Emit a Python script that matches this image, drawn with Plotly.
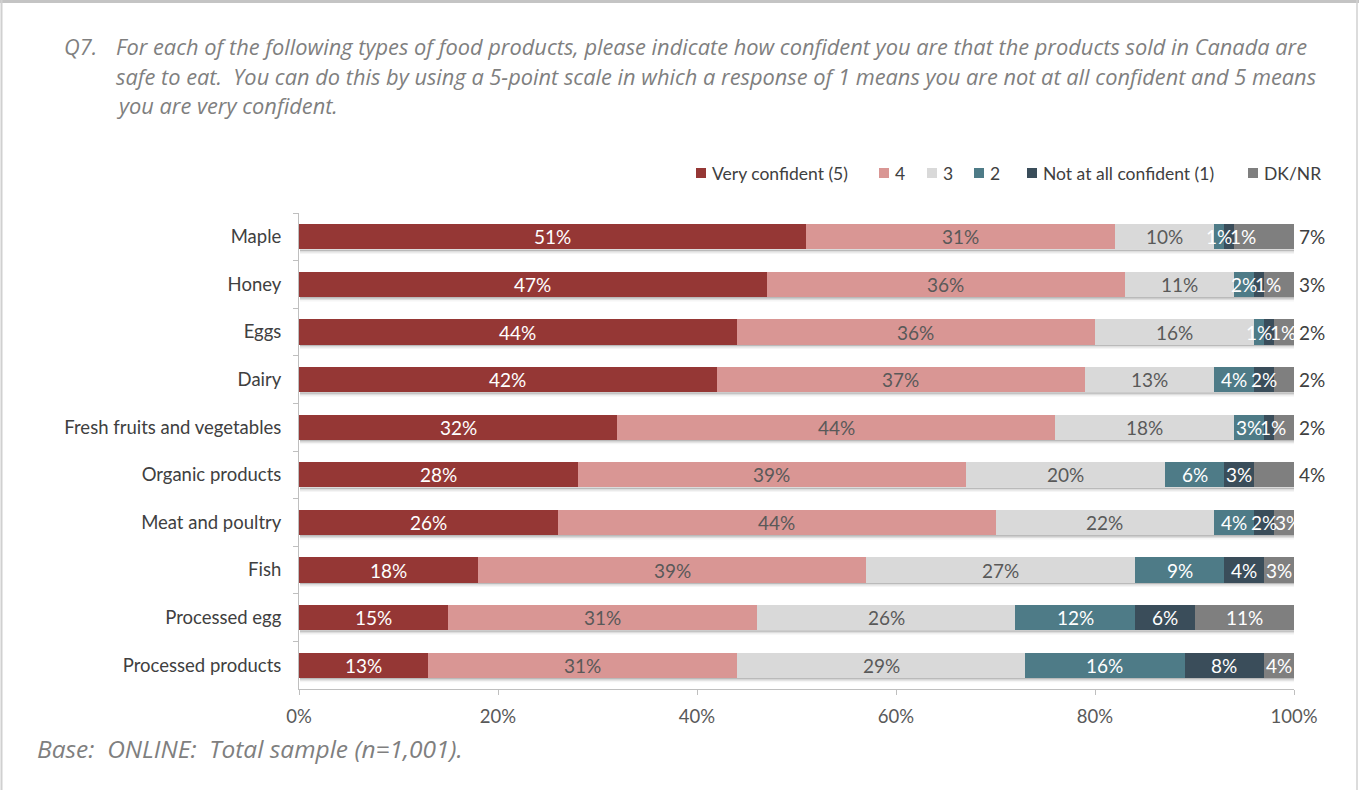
import plotly.graph_objects as go

# Survey results: confidence that food products sold in Canada are safe to eat
categories = [
    "Maple", "Honey", "Eggs", "Dairy", "Fresh fruits and vegetables",
    "Organic products", "Meat and poultry", "Fish", "Processed egg",
    "Processed products",
]
very_confident = [51, 47, 44, 42, 32, 28, 26, 18, 15, 13]
rating_4 = [31, 36, 36, 37, 44, 39, 44, 39, 31, 31]
rating_3 = [10, 11, 16, 13, 18, 20, 22, 27, 26, 29]
rating_2 = [1, 2, 1, 4, 3, 6, 4, 9, 12, 16]
not_confident = [1, 1, 1, 2, 1, 3, 2, 4, 6, 8]
dk_nr = [7, 3, 2, 2, 2, 4, 3, 3, 11, 4]

series_names = ["Very confident (5)", "4", "3", "2", "Not at all confident (1)", "DK/NR"]
x_ticks = [0, 20, 40, 60, 80, 100]

# where the DK/NR label sits for each row
dk_label_place = ["outside"] * 6 + ["inside"] * 4

series = [very_confident, rating_4, rating_3, rating_2, not_confident, dk_nr]
colors = ["#953735", "#D99694", "#D9D9D9", "#4E7B87", "#3A4D5A", "#7F7F7F"]
text_colors = ["#FFFFFF", "#595959", "#595959", "#FFFFFF", "#FFFFFF", "#FFFFFF"]

FONT = "Lato, 'Open Sans', sans-serif"
ITALIC_FONT = "'Open Sans', Lato, sans-serif"
LABEL_SIZE = 19
W, H = 1359, 790
L, R, T, B = 299, 65, 213, 101
PW, PH = W - L - R, H - T - B
BARGAP = 0.47


def px_x(p):
    return (p - L) / PW


def px_y(p):
    return 1 - (p - T) / PH


def label_width(txt, size):
    # rough pixel width of a "NN%" label
    digits = len(txt) - 1
    return size * (0.58 * digits + 0.62)


fig = go.Figure()
for name, vals, col in zip(series_names, series, colors):
    fig.add_trace(go.Bar(
        y=categories, x=vals, name=name, orientation="h",
        marker=dict(color=col, line=dict(width=0)),
        showlegend=False, hoverinfo="x+name",
    ))

annotations = []
shapes = []
px_per_unit = PW / 100.0
unit_per_px_y = 1.0 / (PH / len(categories))
half_bar = (1 - BARGAP) / 2

for i, cat in enumerate(categories):
    total = min(sum(s[i] for s in series), 100)
    # soft drop shadow beneath each bar
    for depth, alpha in ((1.5, 0.16), (3.0, 0.09), (4.5, 0.04)):
        shapes.append(dict(
            type="rect", xref="x", yref="y", layer="below",
            x0=0.1, x1=total + 0.15,
            y0=i + half_bar, y1=i + half_bar + depth * unit_per_px_y,
            fillcolor=f"rgba(0,0,0,{alpha})", line=dict(width=0)))

    cum = 0.0
    prev_right = -1e9
    for s, vals in enumerate(series):
        v = vals[i]
        start, end = cum, min(cum + v, 100)
        cum += v
        label = f"{v}%"
        if s == len(series) - 1 and dk_label_place[i] == "outside":
            annotations.append(dict(
                x=100, y=cat, xref="x", yref="y", text=label, showarrow=False,
                xanchor="left", xshift=3,
                font=dict(family=FONT, size=LABEL_SIZE, color="#404040")))
            continue
        wpx = label_width(label, LABEL_SIZE)
        cx = L + (start + end) / 2 * px_per_unit
        if cx - wpx / 2 < prev_right + 1:
            cx = prev_right + 1 + wpx / 2
        prev_right = cx + wpx / 2
        annotations.append(dict(
            x=(cx - L) / px_per_unit, y=cat, xref="x", yref="y", text=label,
            showarrow=False, xanchor="center",
            font=dict(family=FONT, size=LABEL_SIZE, color=text_colors[s])))

# title block
title_lines = [
    "For each of the following types of food products, please indicate how confident you are that the products sold in Canada are",
    "safe to eat.  You can do this by using a 5-point scale in which a response of 1 means you are not at all confident and 5 means",
    "you are very confident.",
]
title_font = dict(family=ITALIC_FONT, size=21.8, color="#7F7F7F")
annotations.append(dict(x=px_x(62), y=px_y(47), xref="paper", yref="paper",
                        text="<i>Q7.</i>", showarrow=False, xanchor="left",
                        yanchor="middle", font=title_font))
for k, line in enumerate(title_lines):
    annotations.append(dict(x=px_x(114), y=px_y(47 + 29.5 * k), xref="paper",
                            yref="paper", text=f"<i>{line}</i>", showarrow=False,
                            xanchor="left", yanchor="middle", font=title_font))

annotations.append(dict(x=px_x(35), y=px_y(748), xref="paper", yref="paper",
                        text="<i>Base:  ONLINE:  Total sample (n=1,001).</i>",
                        showarrow=False, xanchor="left", yanchor="middle",
                        font=dict(family=ITALIC_FONT, size=24.5, color="#7F7F7F")))

# legend drawn as swatches + labels
legend_x = [696, 879, 927, 974, 1027, 1248]
legend_y = 173
for name, col, lx in zip(series_names, colors, legend_x):
    shapes.append(dict(type="rect", xref="paper", yref="paper",
                       x0=px_x(lx), x1=px_x(lx + 10),
                       y0=px_y(legend_y + 5), y1=px_y(legend_y - 5),
                       fillcolor=col, line=dict(width=0)))
    annotations.append(dict(x=px_x(lx + 14), y=px_y(legend_y), xref="paper",
                            yref="paper", text=name, showarrow=False,
                            xanchor="left", yanchor="middle",
                            font=dict(family=FONT, size=17.5, color="#404040")))

# page frame
shapes.append(dict(type="line", xref="paper", yref="paper", x0=px_x(0), x1=px_x(W),
                   y0=px_y(1.5), y1=px_y(1.5), line=dict(color="#C4C4C4", width=3)))
shapes.append(dict(type="line", xref="paper", yref="paper", x0=px_x(1.5), x1=px_x(1.5),
                   y0=px_y(0), y1=px_y(H), line=dict(color="#D0D0D0", width=2)))
shapes.append(dict(type="line", xref="paper", yref="paper", x0=px_x(1357), x1=px_x(1357),
                   y0=px_y(0), y1=px_y(H), line=dict(color="#D0D0D0", width=1.5)))

fig.update_layout(
    barmode="stack",
    bargap=BARGAP,
    width=W, height=H,
    margin=dict(l=L, r=R, t=T, b=B, pad=0),
    paper_bgcolor="white", plot_bgcolor="white",
    font=dict(family=FONT, color="#404040"),
    annotations=annotations,
    shapes=shapes,
    xaxis=dict(
        range=[0, 100], tickvals=x_ticks, ticktext=[f"{t}%" for t in x_ticks],
        showgrid=False, zeroline=False, showline=True, linecolor="#BFBFBF",
        linewidth=1, ticks="outside", ticklen=5, tickcolor="#BFBFBF",
        ticklabelstandoff=6,
        tickfont=dict(family=FONT, size=18.5, color="#595959"),
    ),
    yaxis=dict(
        autorange="reversed", showgrid=False, zeroline=False, showline=True,
        linecolor="#BFBFBF", linewidth=1, ticks="outside", ticklen=5,
        tickcolor="#BFBFBF", tickson="boundaries", ticklabelstandoff=13,
        tickfont=dict(family=FONT, size=18.5, color="#404040"),
    ),
)

fig.write_html("out.html")
